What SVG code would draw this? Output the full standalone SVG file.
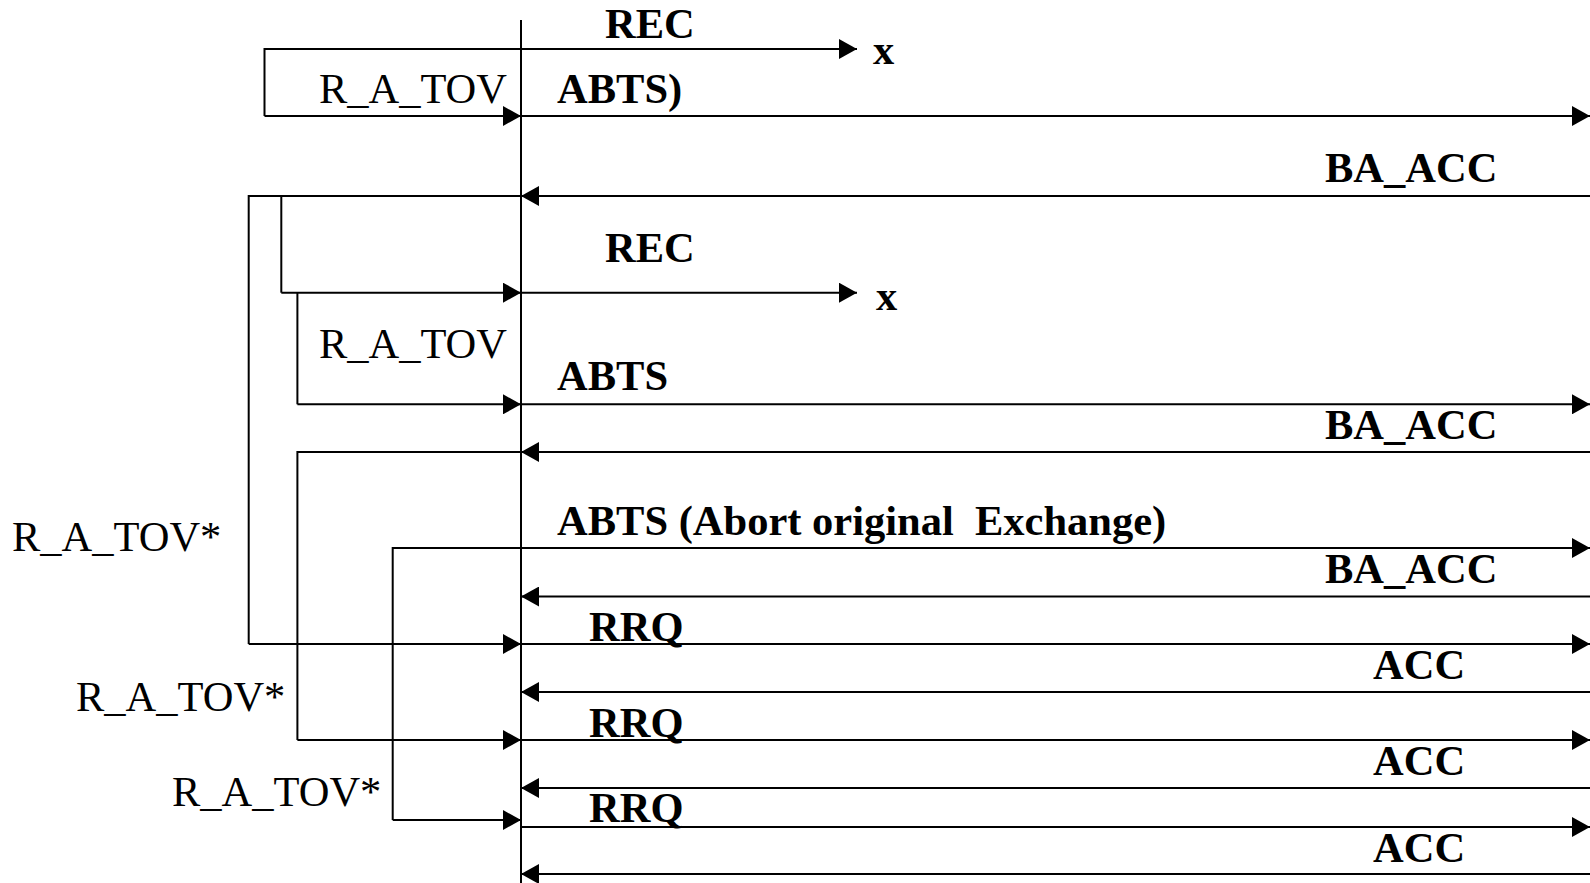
<svg xmlns="http://www.w3.org/2000/svg" width="1590" height="883" viewBox="0 0 1590 883">
<style>
.ln{stroke:#000;stroke-width:2;fill:none}
.b{font-family:"Liberation Serif","Times New Roman",serif;font-weight:bold;font-size:42.5px;fill:#000}
.r{font-family:"Liberation Serif","Times New Roman",serif;font-size:42.5px;fill:#000}
</style>
<defs>
<marker id="ah" viewBox="0 0 18 20" refX="18" refY="10" markerWidth="18" markerHeight="20" markerUnits="userSpaceOnUse" orient="auto">
<path d="M0,0 L18,10 L0,20 Z" fill="#000"/>
</marker>
</defs>
<rect width="1590" height="883" fill="#fff"/>
<g id="lifeline">
<line class="ln" x1="521" y1="20" x2="521" y2="883"/>
</g>
<g id="connectors">
<path class="ln" d="M264.5,116 V49 H857" marker-end="url(#ah)"/>
<path class="ln" d="M264.5,116 H521" marker-end="url(#ah)"/>
<path class="ln" d="M521,116 H1590" marker-end="url(#ah)"/>
<path class="ln" d="M1590,196 H521" marker-end="url(#ah)"/>
<path class="ln" d="M521,196 H248.7 V644"/>
<path class="ln" d="M281.3,196 V292.7"/>
<path class="ln" d="M281.3,292.7 H521" marker-end="url(#ah)"/>
<path class="ln" d="M521,292.7 H857" marker-end="url(#ah)"/>
<path class="ln" d="M297.4,292.7 V404.3"/>
<path class="ln" d="M297.4,404.3 H521" marker-end="url(#ah)"/>
<path class="ln" d="M521,404.3 H1590" marker-end="url(#ah)"/>
<path class="ln" d="M1590,452 H521" marker-end="url(#ah)"/>
<path class="ln" d="M521,452 H297.4 V740"/>
<path class="ln" d="M392.7,820 V548 H1590" marker-end="url(#ah)"/>
<path class="ln" d="M1590,596.5 H521" marker-end="url(#ah)"/>
<path class="ln" d="M248.7,644 H521" marker-end="url(#ah)"/>
<path class="ln" d="M521,644 H1590" marker-end="url(#ah)"/>
<path class="ln" d="M1590,692 H521" marker-end="url(#ah)"/>
<path class="ln" d="M297.4,740 H521" marker-end="url(#ah)"/>
<path class="ln" d="M521,740 H1590" marker-end="url(#ah)"/>
<path class="ln" d="M1590,788 H521" marker-end="url(#ah)"/>
<path class="ln" d="M392.7,820 H521" marker-end="url(#ah)"/>
<path class="ln" d="M521,827 H1590" marker-end="url(#ah)"/>
<path class="ln" d="M1590,874 H521" marker-end="url(#ah)"/>
</g>
<g id="labels">
<text class="b" x="605" y="38">REC</text>
<text class="b" x="873" y="64">x</text>
<text class="r" x="507" y="103" text-anchor="end">R_A_TOV</text>
<text class="b" x="557" y="103">ABTS)</text>
<text class="b" x="1325" y="182">BA_ACC</text>
<text class="b" x="605" y="262">REC</text>
<text class="b" x="876" y="310">x</text>
<text class="r" x="507" y="358" text-anchor="end">R_A_TOV</text>
<text class="b" x="557" y="390">ABTS</text>
<text class="b" x="1325" y="439">BA_ACC</text>
<text class="b" x="557" y="535" xml:space="preserve">ABTS (Abort original  Exchange)</text>
<text class="r" x="12" y="551">R_A_TOV*</text>
<text class="b" x="1325" y="583">BA_ACC</text>
<text class="b" x="589" y="641">RRQ</text>
<text class="b" x="1373" y="679">ACC</text>
<text class="r" x="76" y="711">R_A_TOV*</text>
<text class="b" x="589" y="737">RRQ</text>
<text class="b" x="1373" y="775">ACC</text>
<text class="r" x="172" y="806">R_A_TOV*</text>
<text class="b" x="589" y="822">RRQ</text>
<text class="b" x="1373" y="862">ACC</text>
</g>
</svg>
